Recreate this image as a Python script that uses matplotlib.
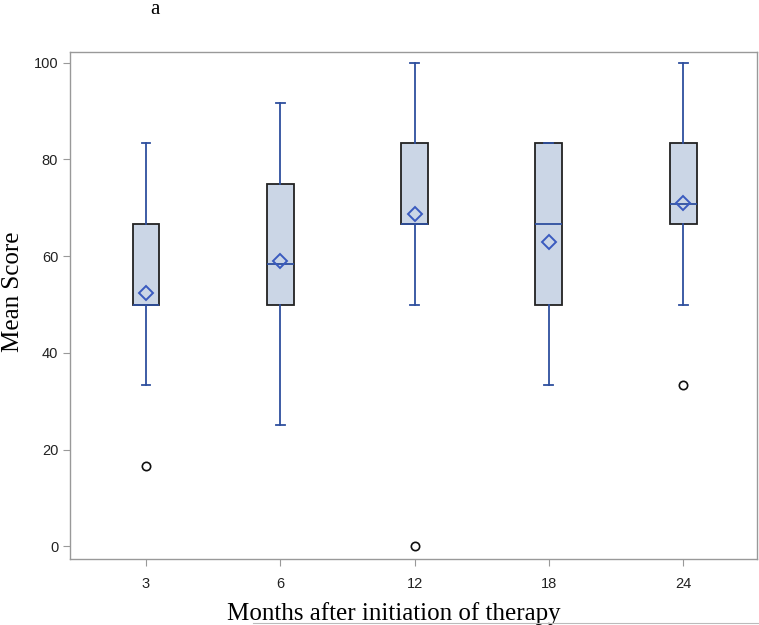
import matplotlib
matplotlib.use("Agg")
import matplotlib.pyplot as plt
from matplotlib.lines import Line2D

months = ["3", "6", "12", "18", "24"]
whisk_low = [33.3, 25.0, 50.0, 33.3, 50.0]
q1 = [50.0, 50.0, 66.7, 50.0, 66.7]
medians = [50.0, 58.3, 66.7, 66.7, 70.8]
q3 = [66.7, 75.0, 83.3, 83.3, 83.3]
whisk_high = [83.3, 91.7, 100.0, 83.3, 100.0]
means = [52.4, 59.1, 68.8, 62.9, 70.9]
outliers = [[16.7], [], [0.0], [], [33.3]]

BLUE = "#2E4F9E"
FILL = "#CBD6E6"

fig = plt.figure(figsize=(7.59, 6.25), dpi=100)
ax = fig.add_axes([70/759, 1-559/625, (757-70)/759, (559-52)/625])

stats = []
for i in range(len(months)):
    stats.append(dict(med=medians[i], q1=q1[i], q3=q3[i], whislo=whisk_low[i],
                      whishi=whisk_high[i], mean=means[i], fliers=outliers[i], label=months[i]))

pos = list(range(len(months)))
ax.bxp(stats, positions=pos, widths=0.2, showmeans=True, patch_artist=True,
       boxprops=dict(facecolor=FILL, edgecolor="#222222", linewidth=1.3),
       medianprops=dict(color=BLUE, linewidth=1.3),
       whiskerprops=dict(color=BLUE, linewidth=1.3),
       capprops=dict(color=BLUE, linewidth=1.3),
       capwidths=0.065,
       meanprops=dict(marker="D", markerfacecolor="none", markeredgecolor="#3A5BBF",
                      markersize=7.5, markeredgewidth=1.4),
       flierprops=dict(marker="o", markerfacecolor="none", markeredgecolor="#111111",
                       markersize=6, markeredgewidth=1.2))

ax.set_xlim(-0.566, 4.55)
ax.set_ylim(-2.6, 102.2)
ax.set_yticks([0, 20, 40, 60, 80, 100])
ax.set_xticks(pos)
ax.set_xticklabels(months)
for sp in ax.spines.values():
    sp.set_color("#999999")
    sp.set_linewidth(1.0)
ax.tick_params(colors="#999999", labelcolor="#222222", length=5, width=0.8,
               labelsize=10.5)
ax.tick_params(axis="x", pad=8)
for lab in ax.get_xticklabels() + ax.get_yticklabels():
    lab.set_family("Liberation Sans")

ax.set_ylabel("Mean Score", family="Liberation Serif", fontsize=18)
ax.set_xlabel("Months after initiation of therapy", family="Liberation Serif",
              fontsize=18)
ax.yaxis.set_label_coords(-0.067, 0.527)
ax.xaxis.set_label_coords(0.471, -0.085)

fig.text(155/759, 1-10/625, "a", family="Liberation Serif", fontsize=15,
         ha="center", va="center")
fig.add_artist(Line2D([253/759, 1.0], [1-623/625, 1-623/625], color="#BBBBBB",
                      linewidth=0.8, transform=fig.transFigure))

fig.savefig("out.png", dpi=100)
